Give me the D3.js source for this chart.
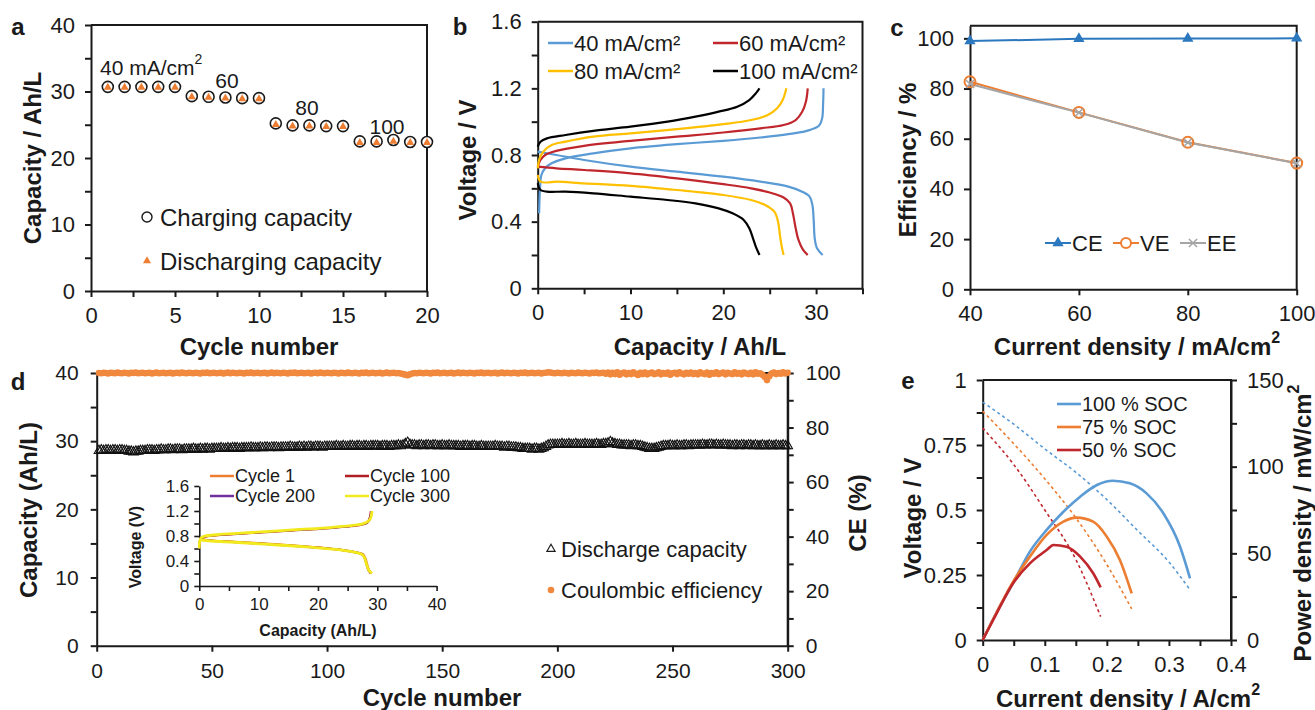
<!DOCTYPE html>
<html><head><meta charset="utf-8">
<script src="https://cdn.jsdelivr.net/npm/d3@7"></script>
<style>body{margin:0;background:#fff}</style>
</head><body>
<svg id="c" width="1315" height="710"></svg>
<script>
// ---------- DATA ----------
// Panel a
const cyclesA = [1,2,3,4,5,6,7,8,9,10,11,12,13,14,15,16,17,18,19,20];
const chargeCapA = [30.7,30.7,30.7,30.7,30.7,29.3,29.2,29.1,29.0,29.0,25.2,24.9,24.9,24.8,24.8,22.5,22.5,22.7,22.4,22.4];
const dischargeCapA = [30.6,30.6,30.6,30.6,30.6,29.2,29.1,29.0,28.9,28.9,25.0,24.8,24.8,24.7,24.7,22.3,22.3,22.5,22.3,22.3];
const rateLabelsA = ["40 mA/cm", "60", "80", "100"];

// Panel b  [capacity Ah/L, voltage V]
const b40Charge = [[0.15,0.45],[0.25,0.6],[0.4,0.68],[0.8,0.72],[1.5,0.75],[3,0.78],[6,0.81],[10,0.84],[15,0.865],[20,0.885],[24,0.905],[27,0.925],[29,0.945],[30.3,0.975],[30.65,1.02],[30.75,1.1],[30.8,1.2]];
const b40Discharge = [[0,0.82],[2,0.8],[5,0.77],[10,0.73],[15,0.7],[20,0.67],[24,0.64],[27,0.61],[28.5,0.58],[29.3,0.55],[29.6,0.5],[29.75,0.4],[29.85,0.3],[30.1,0.24],[30.7,0.2]];
const b60Charge = [[0,0.73],[0.3,0.77],[0.8,0.8],[2,0.825],[5,0.855],[10,0.885],[15,0.91],[20,0.935],[24,0.96],[26.5,0.98],[27.8,1.01],[28.5,1.06],[28.9,1.12],[29.1,1.2]];
const b60Discharge = [[0,0.73],[2,0.72],[5,0.71],[10,0.69],[15,0.66],[20,0.625],[23,0.6],[25,0.575],[26.5,0.545],[27.2,0.51],[27.5,0.45],[27.8,0.36],[28.1,0.29],[28.6,0.23],[29.1,0.2]];
const b80Charge = [[0,0.72],[0.2,0.78],[0.6,0.82],[1.5,0.86],[3,0.88],[6,0.91],[10,0.93],[15,0.955],[20,0.985],[23,1.01],[24.8,1.04],[25.8,1.08],[26.4,1.13],[26.8,1.2]];
const b80Discharge = [[0,0.68],[0.3,0.64],[1,0.635],[2,0.64],[5,0.63],[10,0.615],[15,0.59],[20,0.56],[23,0.53],[24.5,0.5],[25.5,0.46],[25.9,0.4],[26.1,0.32],[26.3,0.25],[26.5,0.2]];
const b100Charge = [[0,0.85],[0.3,0.88],[1,0.9],[3,0.92],[6,0.945],[10,0.97],[14,1.0],[17,1.03],[19.5,1.06],[21.5,1.09],[22.8,1.13],[23.5,1.17],[23.9,1.2]];
const b100Discharge = [[0,0.63],[0.3,0.59],[1,0.58],[3,0.58],[6,0.57],[10,0.55],[14,0.53],[17,0.51],[19.5,0.48],[21,0.45],[22.2,0.41],[22.8,0.36],[23.2,0.3],[23.5,0.25],[23.9,0.2]];
const bLabels = ["40 mA/cm²","60 mA/cm²","80 mA/cm²","100 mA/cm²"];

// Panel c
const densityC = [40,60,80,100];
const ceC = [98.9,99.8,99.9,100.0];
const veC = [82.7,70.5,58.6,50.3];
const eeC = [81.8,70.4,58.5,50.2];

// Panel d (cycles 1..300)
const capD = [
28.6,28.7,28.6,28.7,28.7,28.6,28.7,28.7,28.6,28.7,28.7,28.6,28.6,28.5,28.5,28.4,28.5,28.5,28.6,28.6,
28.6,28.7,28.7,28.7,28.6,28.7,28.7,28.8,28.7,28.7,28.8,28.8,28.7,28.8,28.8,28.8,28.7,28.8,28.8,28.8,
28.8,28.9,28.8,28.8,28.9,28.8,28.9,28.9,28.8,28.9,28.9,28.9,28.9,29.0,28.9,28.9,29.0,28.9,29.0,29.0,
29.0,28.9,29.0,29.0,29.0,29.0,29.1,29.0,29.0,29.0,29.1,29.0,29.1,29.1,29.0,29.1,29.1,29.1,29.0,29.1,
29.1,29.1,29.1,29.2,29.1,29.1,29.1,29.2,29.1,29.2,29.1,29.2,29.2,29.1,29.2,29.2,29.2,29.1,29.2,29.2,
29.2,29.2,29.2,29.3,29.2,29.2,29.3,29.2,29.2,29.3,29.3,29.2,29.3,29.3,29.2,29.3,29.3,29.2,29.3,29.3,
29.3,29.3,29.2,29.3,29.3,29.3,29.2,29.3,29.3,29.3,29.4,29.3,29.4,29.6,29.8,29.5,29.4,29.4,29.3,29.4,
29.4,29.3,29.4,29.4,29.3,29.4,29.4,29.3,29.3,29.4,29.3,29.3,29.4,29.3,29.3,29.3,29.3,29.2,29.3,29.3,
29.3,29.2,29.3,29.3,29.2,29.2,29.3,29.2,29.2,29.2,29.2,29.2,29.3,29.2,29.2,29.2,29.1,29.2,29.2,29.1,
29.1,29.1,29.0,29.0,28.9,28.9,28.9,28.9,28.8,28.9,28.9,28.8,28.9,29.0,29.2,29.4,29.5,29.5,29.5,29.5,
29.5,29.6,29.5,29.5,29.6,29.5,29.5,29.6,29.5,29.5,29.5,29.6,29.5,29.5,29.5,29.5,29.6,29.5,29.5,29.6,
29.6,29.7,29.9,29.7,29.6,29.5,29.5,29.4,29.4,29.4,29.4,29.3,29.4,29.4,29.3,29.3,29.2,29.1,29.0,28.9,
28.9,28.9,29.0,29.1,29.2,29.3,29.3,29.3,29.4,29.3,29.3,29.4,29.3,29.3,29.4,29.4,29.3,29.4,29.4,29.4,
29.4,29.4,29.5,29.4,29.4,29.5,29.5,29.4,29.5,29.4,29.4,29.5,29.4,29.4,29.4,29.3,29.4,29.4,29.3,29.4,
29.4,29.3,29.4,29.4,29.3,29.4,29.3,29.3,29.4,29.3,29.3,29.4,29.3,29.3,29.4,29.3,29.3,29.4,29.3,29.3];
const ceD = [
100.0,99.9,100.1,100.0,99.8,100.1,100.0,99.9,100.2,100.0,99.9,100.1,100.0,99.8,100.1,100.0,100.2,99.9,100.0,100.1,
99.9,100.0,100.1,99.8,100.0,100.2,99.9,100.0,100.1,99.9,100.0,100.1,99.8,100.0,100.1,99.9,100.2,100.0,99.9,100.1,
100.0,99.9,100.1,100.0,99.8,100.1,100.0,100.2,99.9,100.0,100.1,99.9,100.0,100.1,99.8,100.0,100.2,99.9,100.1,100.0,
99.9,100.1,100.0,99.8,100.1,100.0,100.2,99.9,100.0,100.1,99.9,100.0,100.1,99.8,100.0,100.2,99.9,100.1,100.0,99.9,
100.1,100.0,99.8,100.1,100.0,100.2,99.9,100.0,100.1,99.9,100.0,100.1,99.8,100.0,100.1,99.9,100.2,100.0,99.9,100.1,
100.0,99.9,100.1,100.0,99.8,100.1,100.0,99.9,100.2,100.0,99.9,100.1,100.0,99.8,100.1,100.0,100.2,99.9,100.0,100.1,
99.9,100.0,100.1,99.8,100.0,100.2,99.9,100.0,100.1,99.9,100.0,99.8,99.6,99.4,99.2,99.5,99.8,100.0,99.9,100.1,
100.0,99.9,100.1,100.0,99.8,100.1,100.0,100.2,99.9,100.0,100.1,99.9,100.0,100.1,99.8,100.0,100.2,99.9,100.1,100.0,
99.9,100.1,100.0,99.8,100.1,100.0,100.2,99.9,100.0,100.1,99.9,100.0,100.1,99.8,100.0,100.2,99.9,100.1,100.0,99.9,
100.1,100.0,99.8,100.1,100.0,100.2,99.9,100.0,100.1,99.9,100.0,100.1,99.8,100.0,100.1,100.3,100.2,100.0,99.9,100.1,
100.0,99.9,100.1,100.0,99.8,100.1,100.0,99.9,100.2,100.0,99.9,100.1,100.0,99.8,100.1,100.0,100.2,99.9,100.0,100.1,
99.7,100.2,99.5,100.1,99.6,100.3,99.4,99.9,100.2,99.5,100.0,99.6,100.3,99.7,99.3,100.1,99.6,100.2,99.5,99.9,
100.2,99.6,99.8,100.3,99.5,100.0,99.7,100.2,99.4,99.9,100.1,99.6,100.3,99.8,99.5,100.1,99.7,100.2,99.6,100.0,
99.5,100.3,99.8,99.6,100.2,99.4,100.0,99.7,100.3,99.6,99.9,100.2,99.5,100.1,99.8,99.6,100.3,99.7,100.0,99.5,
100.2,99.8,99.6,100.1,99.5,100.3,99.7,99.9,99.4,98.6,97.4,98.8,99.8,100.2,99.6,100.0,99.7,100.3,99.8,100.1];

// Panel d inset [capacity, voltage]
const cyc1Charge = [[0,0.6],[0.1,0.72],[0.4,0.77],[1,0.79],[3,0.81],[7,0.84],[12,0.87],[17,0.9],[22,0.93],[25.5,0.96],[27.5,0.99],[28.3,1.02],[28.7,1.06],[28.9,1.12],[29.0,1.2]];
const cyc1Discharge = [[0,0.76],[2,0.73],[6,0.71],[11,0.68],[16,0.65],[20,0.62],[24,0.58],[26.5,0.54],[27.6,0.51],[28.0,0.45],[28.3,0.35],[28.6,0.26],[29.0,0.2]];
const cyc100Charge = [[0,0.6],[0.1,0.72],[0.4,0.77],[1,0.79],[3,0.81],[7,0.835],[12,0.865],[17,0.895],[22,0.925],[25.5,0.955],[27.5,0.985],[28.3,1.01],[28.6,1.06],[28.8,1.12],[28.9,1.2]];
const cyc100Discharge = [[0,0.75],[2,0.73],[6,0.705],[11,0.675],[16,0.645],[20,0.615],[24,0.575],[26.5,0.535],[27.5,0.5],[27.9,0.44],[28.2,0.34],[28.5,0.25],[28.9,0.2]];
const cyc200Charge = [[0,0.6],[0.1,0.72],[0.4,0.775],[1,0.795],[3,0.815],[7,0.84],[12,0.87],[17,0.9],[22,0.93],[25.5,0.96],[27.5,0.99],[28.4,1.02],[28.7,1.06],[28.9,1.12],[29.0,1.2]];
const cyc200Discharge = [[0,0.745],[2,0.725],[6,0.7],[11,0.67],[16,0.64],[20,0.61],[24,0.575],[26.5,0.535],[27.5,0.5],[27.9,0.44],[28.2,0.34],[28.6,0.25],[29.0,0.2]];
const cyc300Charge = [[0,0.6],[0.1,0.73],[0.4,0.78],[1,0.8],[3,0.82],[7,0.845],[12,0.875],[17,0.905],[22,0.935],[25.5,0.965],[27.5,0.995],[28.4,1.03],[28.8,1.07],[29.0,1.13],[29.1,1.2]];
const cyc300Discharge = [[0,0.74],[2,0.72],[6,0.70],[11,0.67],[16,0.64],[20,0.61],[24,0.575],[26.5,0.535],[27.5,0.5],[27.9,0.44],[28.2,0.34],[28.6,0.25],[29.1,0.2]];
const insetLabels = ["Cycle 1","Cycle 100","Cycle 200","Cycle 300"];

// Panel e
const soc100I = [0,0.05,0.1,0.15,0.2,0.25,0.3,0.335];
const soc100V = [0.915,0.83,0.735,0.645,0.54,0.42,0.3,0.19];
const soc75I = [0,0.05,0.1,0.15,0.2,0.24];
const soc75V = [0.88,0.755,0.62,0.47,0.29,0.12];
const soc50I = [0,0.05,0.1,0.15,0.19];
const soc50V = [0.815,0.675,0.5,0.31,0.09];
const soc100PI = [0,0.0225,0.049,0.076,0.103,0.13,0.157,0.184,0.21,0.237,0.264,0.291,0.318,0.334];
const soc100P = [0,16,33,51,63.5,74,82.7,89.4,91.9,90.4,84.6,73.1,53.8,35.6];
const soc75PI = [0,0.0225,0.049,0.076,0.103,0.13,0.151,0.178,0.2,0.221,0.24];
const soc75P = [0,16,33.7,48.1,60.6,68.3,70.6,68.3,59.6,46.2,26.9];
const soc50PI = [0,0.0225,0.049,0.076,0.103,0.114,0.135,0.157,0.178,0.19];
const soc50P = [0,15.4,32.7,44.2,51.9,54.8,53.8,48.1,38.5,30.4];
const socLabels = ["100 % SOC","75 % SOC","50 % SOC"];

// ---------- HELPERS ----------
const FF = '"Liberation Sans", Arial, sans-serif';
const INK = '#1a1a1a';
const svg = d3.select('#c');
svg.append('rect').attr('width',1315).attr('height',710).attr('fill','#fff');

function axis(g, scale, orient, pos, major, minor, fmt, o={}) {
  const gen = {left:d3.axisLeft, right:d3.axisRight, bottom:d3.axisBottom, top:d3.axisTop}[orient];
  const tr = (orient==='left'||orient==='right') ? `translate(${pos},0)` : `translate(0,${pos})`;
  const fs=o.fs||22, ts=o.ts||6, pad=o.pad||10, sw=o.sw||2;
  if (minor) {
    const gm = g.append('g').attr('transform',tr)
      .call(gen(scale).tickValues(minor).tickFormat('').tickSize(ts).tickSizeOuter(0));
    gm.select('.domain').remove();
    gm.selectAll('.tick line').attr('stroke',INK).attr('stroke-width',sw);
  }
  const ga = g.append('g').attr('transform',tr)
    .call(gen(scale).tickValues(major).tickFormat(fmt).tickSize(ts).tickPadding(pad).tickSizeOuter(0));
  ga.select('.domain').attr('stroke',INK).attr('stroke-width',sw);
  ga.selectAll('.tick line').attr('stroke',INK).attr('stroke-width',sw);
  ga.selectAll('.tick text').attr('font-size',fs).attr('font-family',FF).attr('fill',INK);
  return ga;
}
function txt(g, x, y, s, o={}) {
  return g.append('text').attr('x',x).attr('y',y).text(s)
    .attr('font-family',FF).attr('font-size',o.fs||22)
    .attr('font-weight',o.bold?'bold':'normal')
    .attr('text-anchor',o.anchor||'start')
    .attr('dominant-baseline','central').attr('fill',o.fill||INK);
}
function vtxt(g, x, y, s, o={}) {
  return g.append('text').attr('transform',`translate(${x},${y}) rotate(-90)`).text(s)
    .attr('font-family',FF).attr('font-size',o.fs||24).attr('font-weight','bold')
    .attr('text-anchor','middle').attr('dominant-baseline','central').attr('fill',INK);
}
function sup(t, s, fs) {
  t.append('tspan').attr('baseline-shift','super').attr('font-size',fs).text(s);
}
function frame(g, x, y) {
  const [x0,x1] = x.range(), [y0,y1] = y.range();
  g.append('path').attr('d',`M${x0},${y1}H${x1}V${y0}`).attr('fill','none').attr('stroke',INK).attr('stroke-width',2);
}
const fmtNum = d => String(d);

// ---------- PANEL A ----------
{
  const g = svg.append('g');
  const x = d3.scaleLinear([0,20],[91,427]);
  const y = d3.scaleLinear([0,40],[291,25]);
  frame(g,x,y);
  axis(g,y,'left',x(0),[0,10,20,30,40],[5,15,25,35],fmtNum);
  axis(g,x,'bottom',y(0),[0,5,10,15,20],[2.5,7.5,12.5,17.5],fmtNum);
  g.selectAll('circle.ch').data(cyclesA).join('circle')
    .attr('cx',d=>x(d)).attr('cy',(d,i)=>y(chargeCapA[i])).attr('r',5.5)
    .attr('fill','#fff').attr('stroke',INK).attr('stroke-width',1.6);
  const tri = d3.symbol(d3.symbolTriangle, 28);
  g.selectAll('path.dis').data(cyclesA).join('path')
    .attr('transform',(d,i)=>`translate(${x(d)},${y(dischargeCapA[i])})`)
    .attr('d',tri).attr('fill','#ed7d31');
  const t0 = txt(g,100,67,rateLabelsA[0],{fs:21}); sup(t0,'2',14);
  txt(g,227,80,rateLabelsA[1],{fs:21,anchor:'middle'});
  txt(g,307,107,rateLabelsA[2],{fs:21,anchor:'middle'});
  txt(g,387,126,rateLabelsA[3],{fs:21,anchor:'middle'});
  g.append('circle').attr('cx',147).attr('cy',217).attr('r',5).attr('fill','none').attr('stroke',INK).attr('stroke-width',1.4);
  txt(g,160,217,'Charging capacity',{fs:24});
  g.append('path').attr('transform','translate(147,261)').attr('d',tri).attr('fill','#ed7d31');
  txt(g,160,261,'Discharging capacity',{fs:24});
  vtxt(g,32,158,'Capacity / Ah/L');
  txt(g,259,346,'Cycle number',{fs:24,bold:true,anchor:'middle'});
  txt(g,18,26,'a',{fs:24,bold:true,anchor:'middle'});
}

// ---------- PANEL B ----------
{
  const g = svg.append('g');
  const x = d3.scaleLinear([0,35],[537.7,862.5]);
  const y = d3.scaleLinear([0,1.6],[288.3,21.7]);
  frame(g,x,y);
  axis(g,y,'left',x(0),[0,0.4,0.8,1.2,1.6],[0.2,0.6,1.0,1.4],fmtNum);
  axis(g,x,'bottom',y(0),[0,10,20,30],[5,15,25,35],fmtNum);
  const line = d3.line().x(d=>x(d[0])).y(d=>y(d[1])).curve(d3.curveCatmullRom.alpha(0.5));
  const series = [
    [b40Charge,'#5b9bd5'],[b40Discharge,'#5b9bd5'],
    [b60Charge,'#c0272d'],[b60Discharge,'#c0272d'],
    [b80Charge,'#ffc000'],[b80Discharge,'#ffc000'],
    [b100Charge,'#000'],[b100Discharge,'#000']];
  g.selectAll('path.cv').data(series).join('path')
    .attr('d',d=>line(d[0])).attr('fill','none').attr('stroke',d=>d[1]).attr('stroke-width',2.2);
  const leg = [[548,43,'#5b9bd5',bLabels[0]],[713,43,'#c0272d',bLabels[1]],[548,71,'#ffc000',bLabels[2]],[713,71,'#000',bLabels[3]]];
  leg.forEach(([lx,ly,c,s])=>{
    g.append('line').attr('x1',lx).attr('x2',lx+25).attr('y1',ly).attr('y2',ly).attr('stroke',c).attr('stroke-width',2.5);
    txt(g,lx+26,ly,s,{fs:22});
  });
  vtxt(g,467,160,'Voltage / V');
  txt(g,700,346,'Capacity / Ah/L',{fs:24,bold:true,anchor:'middle'});
  txt(g,460,26,'b',{fs:24,bold:true,anchor:'middle'});
}

// ---------- PANEL C ----------
{
  const g = svg.append('g');
  const x = d3.scaleLinear([40,100],[970,1296.7]);
  const y = d3.scaleLinear([0,105],[289.3,25.8]);
  frame(g,x,y);
  axis(g,y,'left',x(40),[0,20,40,60,80,100],null,fmtNum);
  axis(g,x,'bottom',y(0),[40,60,80,100],null,fmtNum);
  const line = d3.line().x((d,i)=>x(densityC[i])).y(d=>y(d));
  g.append('path').attr('d',line(ceC)).attr('fill','none').attr('stroke','#2b78bf').attr('stroke-width',2);
  g.append('path').attr('d',line(veC)).attr('fill','none').attr('stroke','#ed7d31').attr('stroke-width',2);
  g.append('path').attr('d',line(eeC)).attr('fill','none').attr('stroke','#a5a5a5').attr('stroke-width',2);
  const tri = d3.symbol(d3.symbolTriangle, 55);
  const xs = d3.symbol(d3.symbolX, 45);
  g.selectAll('path.ce').data(ceC).join('path').attr('transform',(d,i)=>`translate(${x(densityC[i])},${y(d)})`).attr('d',tri).attr('fill','#2b78bf');
  g.selectAll('circle.ve').data(veC).join('circle').attr('cx',(d,i)=>x(densityC[i])).attr('cy',d=>y(d)).attr('r',5.5).attr('fill','none').attr('stroke','#ed7d31').attr('stroke-width',2);
  g.selectAll('path.ee').data(eeC).join('path').attr('transform',(d,i)=>`translate(${x(densityC[i])},${y(d)})`).attr('d',xs).attr('fill','none').attr('stroke','#a5a5a5').attr('stroke-width',1.5);
  // legend
  const ly = 243;
  g.append('line').attr('x1',1045).attr('x2',1071).attr('y1',ly).attr('y2',ly).attr('stroke','#2b78bf').attr('stroke-width',2);
  g.append('path').attr('transform',`translate(1058,${ly})`).attr('d',tri).attr('fill','#2b78bf');
  txt(g,1072,ly,'CE',{fs:22});
  g.append('line').attr('x1',1113).attr('x2',1139).attr('y1',ly).attr('y2',ly).attr('stroke','#ed7d31').attr('stroke-width',2);
  g.append('circle').attr('cx',1126).attr('cy',ly).attr('r',5).attr('fill','#fff').attr('stroke','#ed7d31').attr('stroke-width',2);
  txt(g,1140,ly,'VE',{fs:22});
  g.append('line').attr('x1',1180).attr('x2',1206).attr('y1',ly).attr('y2',ly).attr('stroke','#a5a5a5').attr('stroke-width',2);
  g.append('path').attr('transform',`translate(1193,${ly})`).attr('d',xs).attr('fill','none').attr('stroke','#a5a5a5').attr('stroke-width',1.5);
  txt(g,1207,ly,'EE',{fs:22});
  vtxt(g,907,160,'Efficiency / %');
  const t = txt(g,1137,346,'Current density / mA/cm',{fs:24,bold:true,anchor:'middle'}); sup(t,'2',16);
  txt(g,897,27,'c',{fs:24,bold:true,anchor:'middle'});
}

// ---------- PANEL D ----------
{
  const g = svg.append('g');
  const cycles = capD.map((d,i)=>i+1);
  const x = d3.scaleLinear([0,300],[96.7,787.7]);
  const yL = d3.scaleLinear([0,40],[645.7,373]);
  const yR = d3.scaleLinear([0,100],[645.7,373]);
  frame(g,x,yL);
  axis(g,yL,'left',x(0),[0,10,20,30,40],[5,15,25,35],fmtNum,{fs:21,pad:12});
  axis(g,yR,'right',x(300),[0,20,40,60,80,100],[10,30,50,70,90],fmtNum,{fs:21,pad:12});
  axis(g,x,'bottom',yL(0),[0,50,100,150,200,250,300],null,fmtNum,{fs:21,pad:11});
  const tri = d3.symbol(d3.symbolTriangle, 40);
  g.selectAll('path.cap').data(capD).join('path')
    .attr('transform',(d,i)=>`translate(${x(cycles[i])},${yL(d)})`).attr('d',tri)
    .attr('fill','none').attr('stroke','#111').attr('stroke-width',1.1);
  g.selectAll('circle.ce').data(ceD).join('circle')
    .attr('cx',(d,i)=>x(cycles[i])).attr('cy',d=>yR(d)).attr('r',3.3).attr('fill','#f0883e');
  // legend
  const triL = d3.symbol(d3.symbolTriangle, 30);
  g.append('path').attr('transform','translate(551,549)').attr('d',triL).attr('fill','none').attr('stroke',INK).attr('stroke-width',1.1);
  txt(g,561,549,'Discharge capacity',{fs:22});
  g.append('circle').attr('cx',551).attr('cy',590).attr('r',3.3).attr('fill','#f0883e');
  txt(g,561,590,'Coulombic efficiency',{fs:22});
  vtxt(g,28,510,'Capacity (Ah/L)');
  vtxt(g,857,513,'CE (%)');
  txt(g,442,697,'Cycle number',{fs:24,bold:true,anchor:'middle'});
  txt(g,18,381,'d',{fs:24,bold:true,anchor:'middle'});

  // inset
  const ix = d3.scaleLinear([0,40],[199.3,436.6]);
  const iy = d3.scaleLinear([0,1.6],[586,486]);
  axis(g,iy,'left',ix(0),[0,0.4,0.8,1.2,1.6],[0.2,0.6,1.0,1.4],fmtNum,{fs:17,ts:5,pad:5,sw:1.6});
  axis(g,ix,'bottom',iy(0),[0,10,20,30,40],[5,15,25,35],fmtNum,{fs:17,ts:5,pad:7,sw:1.6});
  const il = d3.line().x(d=>ix(d[0])).y(d=>iy(d[1])).curve(d3.curveCatmullRom.alpha(0.5));
  const ins = [[cyc1Charge,'#ed7d31',2],[cyc1Discharge,'#ed7d31',2],[cyc100Charge,'#b01f24',2],[cyc100Discharge,'#b01f24',2],
               [cyc200Charge,'#7030a0',2],[cyc200Discharge,'#7030a0',2],[cyc300Charge,'#f2ea1c',2.8],[cyc300Discharge,'#f2ea1c',2.8]];
  g.selectAll('path.ins').data(ins).join('path').attr('d',d=>il(d[0])).attr('fill','none').attr('stroke',d=>d[1]).attr('stroke-width',d=>d[2]);
  const il2 = [[210,476,'#ed7d31',insetLabels[0]],[345,476,'#b01f24',insetLabels[1]],[210,496,'#7030a0',insetLabels[2]],[345,496,'#f2ea1c',insetLabels[3]]];
  il2.forEach(([lx,ly,c,s])=>{
    g.append('line').attr('x1',lx).attr('x2',lx+24).attr('y1',ly).attr('y2',ly).attr('stroke',c).attr('stroke-width',2.5);
    txt(g,lx+25,ly,s,{fs:18});
  });
  vtxt(g,135,547,'Voltage (V)',{fs:16});
  txt(g,318,630,'Capacity (Ah/L)',{fs:16,bold:true,anchor:'middle'});
}

// ---------- PANEL E ----------
{
  const g = svg.append('g');
  const x = d3.scaleLinear([0,0.4],[982.7,1231]);
  const yL = d3.scaleLinear([0,1],[640,380]);
  const yR = d3.scaleLinear([0,150],[640,380]);
  frame(g,x,yL);
  axis(g,yL,'left',x(0),[0,0.25,0.5,0.75,1],[0.125,0.375,0.625,0.875],fmtNum);
  axis(g,yR,'right',x(0.4),[0,50,100,150],[25,75,125],fmtNum);
  axis(g,x,'bottom',yL(0),[0,0.1,0.2,0.3,0.4],[0.05,0.15,0.25,0.35],fmtNum);
  const cols = ['#5b9bd5','#ed7d31','#c0272d'];
  const vl = (I,V)=>d3.line().x((d,i)=>x(I[i])).y(d=>yL(d)).curve(d3.curveMonotoneX)(V);
  const pl = (I,P)=>d3.line().x((d,i)=>x(I[i])).y(d=>yR(d)).curve(d3.curveMonotoneX)(P);
  const dashed = [[soc100I,soc100V],[soc75I,soc75V],[soc50I,soc50V]];
  const solid = [[soc100PI,soc100P],[soc75PI,soc75P],[soc50PI,soc50P]];
  dashed.forEach(([I,V],k)=>g.append('path').attr('d',vl(I,V)).attr('fill','none').attr('stroke',cols[k]).attr('stroke-width',1.6).attr('stroke-dasharray','3,3'));
  solid.forEach(([I,P],k)=>g.append('path').attr('d',pl(I,P)).attr('fill','none').attr('stroke',cols[k]).attr('stroke-width',2.6));
  [404,427,450].forEach((ly,k)=>{
    g.append('line').attr('x1',1057).attr('x2',1081).attr('y1',ly).attr('y2',ly).attr('stroke',cols[k]).attr('stroke-width',2.6);
    txt(g,1082,ly,socLabels[k],{fs:20});
  });
  vtxt(g,912,518,'Voltage / V');
  const vt = g.append('text').attr('transform','translate(1302,523) rotate(-90)')
    .attr('font-family',FF).attr('font-size',24).attr('font-weight','bold')
    .attr('text-anchor','middle').attr('dominant-baseline','central').attr('fill',INK).text('Power density / mW/cm');
  sup(vt,'2',16);
  const t = txt(g,1128,698,'Current density / A/cm',{fs:24,bold:true,anchor:'middle'}); sup(t,'2',16);
  txt(g,908,380,'e',{fs:24,bold:true,anchor:'middle'});
}
</script>
</body></html>
